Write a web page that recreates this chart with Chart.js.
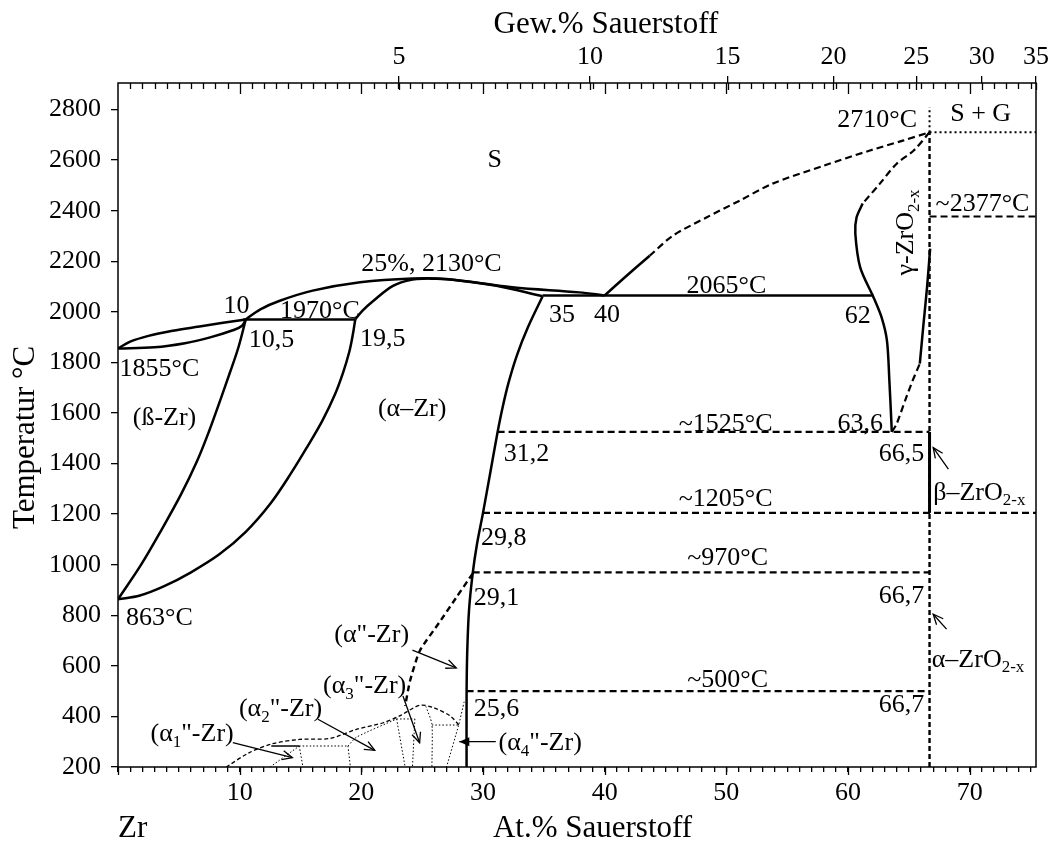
<!DOCTYPE html>
<html>
<head>
<meta charset="utf-8">
<script src="https://cdn.jsdelivr.net/npm/chart.js@4.4.1/dist/chart.umd.min.js"></script>
<style>
  body { margin: 0; background: #fff; }
</style>
</head>
<body>
<canvas id="phase" width="1057" height="843"></canvas>
<script>
// Zr-O phase diagram: x = At.% Sauerstoff, y = Temperatur in °C

const yTickValues = [200, 400, 600, 800, 1000, 1200, 1400, 1600, 1800, 2000, 2200, 2400, 2600, 2800]
const atTickLabels = [10, 20, 30, 40, 50, 60, 70]
const gewTickLabels = ['5', '10', '15', '20', '25', '30', '35']
const gewTickAt = [23.1, 38.8, 50.1, 58.8, 65.6, 71.0, 75.45]   // where each Gew.% tick sits in At.%

// phase boundaries, [At.% O, °C]
const liqBeta = [[0, 1855], [1, 1882], [2.5, 1905], [4.5, 1925], [6.7, 1942], [8.5, 1956], [10.5, 1970]]
const solBeta = [[0, 1855], [3, 1860], [5.5, 1876], [7.5, 1898], [9.5, 1928], [10.2, 1945], [10.5, 1970]]
const peritectic = [[10.3, 1970], [19.5, 1970]]
const liqAlpha = [[10.5, 1970], [11.7, 2010], [13.3, 2044], [16, 2084], [19.9, 2117], [24.2, 2132], [27, 2130], [32.4, 2097], [37.9, 2077], [40, 2065]]
const solAlphaL = [[19.5, 1970], [20.1, 2005], [21, 2044], [22.6, 2103], [24.2, 2128], [25.5, 2132]]
const solAlphaR = [[25.5, 2132], [27.5, 2127], [31.1, 2103], [34.9, 2062]]
const eutectic = [[34.9, 2065], [62.1, 2065]]
const alphaRight = [[34.9, 2062], [33.7, 1940], [32.8, 1830], [32.1, 1720], [31.6, 1620], [31.2, 1525], [30.6, 1365], [30, 1205], [29.5, 1080], [29.15, 965], [28.85, 820], [28.7, 650], [28.65, 480], [28.65, 200]]
const alphaLeft = [[19.5, 1970], [19.3, 1910], [19, 1840], [18.5, 1760], [17.8, 1670], [16.8, 1570], [15.6, 1470], [14.2, 1360], [12.5, 1240], [10.5, 1130], [8.3, 1040], [6, 970], [3.8, 915], [1.8, 878], [0, 863]]
const betaLine = [[10.5, 1970], [9.9, 1860], [9.2, 1760], [8.4, 1650], [7.5, 1530], [6.5, 1410], [5.2, 1280], [3.6, 1140], [1.9, 1000], [0, 863]]
const liqGasSolid = [[40, 2065], [41.5, 2130], [43.7, 2222]]
const liqGasDashed = [[43.7, 2222], [45.6, 2301], [48.4, 2374], [51.1, 2440], [53.8, 2507], [58, 2578], [61.8, 2638], [64.5, 2677], [66.7, 2710]]
const gammaLeftDashed = [[66.7, 2710], [65.4, 2638], [64, 2586], [62.6, 2506], [61.2, 2428]]
const gammaLeftSolid = [[61.2, 2428], [60.7, 2373], [60.6, 2309], [61, 2176], [62.1, 2057], [62.76, 1978], [63.2, 1886], [63.4, 1727], [63.6, 1525]]
const gammaRightDashed = [[63.6, 1525], [64, 1557], [64.7, 1650], [65.3, 1727], [65.9, 1795]]
const gammaRightSolid = [[65.9, 1795], [66.2, 1950], [66.5, 2100], [66.75, 2250]]
const zro2Dotted = [[66.7, 2710], [66.7, 2810]]
const zro2Dashed = [[66.7, 200], [66.7, 2710]]
const betaZrO2 = [[66.7, 1205], [66.7, 1525]]
const iso2710 = [[66.7, 2710], [75.45, 2710]]
const iso2377 = [[66.7, 2377], [75.45, 2377]]
const iso1525 = [[31.2, 1525], [66.7, 1525]]
const iso1205 = [[30, 1205], [75.45, 1205]]
const iso970 = [[29.15, 970], [66.7, 970]]
const iso500 = [[28.65, 500], [66.7, 500]]
const alphaDP = [[29.15, 965], [27.8, 870], [26.4, 771], [24.8, 659], [24, 540], [23.6, 441]]
const lowDashed = [[8.9, 200], [10.8, 257], [12.7, 292], [14.9, 309], [17.4, 313], [19.6, 349], [21.8, 375], [23.15, 402], [24.8, 444], [25.9, 435], [27.3, 402], [28.1, 362]]
const lowSolid = [[12.6, 283], [14.9, 283]]
const lowDotted = [
  [[12.5, 200], [14.9, 283]],
  [[14.9, 283], [18.9, 283]],
  [[14.9, 283], [15.2, 200]],
  [[18.9, 283], [19.1, 200]],
  [[18.9, 283], [19.6, 318], [22.9, 390]],
  [[22.9, 390], [24.4, 390]],
  [[22.9, 390], [23.6, 200]],
  [[24.4, 390], [24.2, 200]],
  [[25.3, 440], [25.8, 370], [25.8, 200]],
  [[25.8, 366], [28.0, 366]],
  [[28.45, 458], [28.0, 366], [27.0, 200]]
]

// text in the diagram: [text, At.%, °C, align]  (_{..} = subscript)
const labels = [
  ['1855°C', 3.41, 1783], ['(ß-Zr)', 3.82, 1589], ['863°C', 3.41, 797],
  ['10', 9.74, 2032], ['10,5', 12.62, 1894], ['1970°C', 16.6, 2012], ['19,5', 21.75, 1898],
  ['25%, 2130°C', 25.76, 2196], ['35', 36.5, 1993], ['40', 40.2, 1993], ['2065°C', 50.0, 2111],
  ['62', 60.8, 1989], ['S', 30.96, 2606], ['2710°C', 62.4, 2764], ['S + G', 70.9, 2789],
  ['~2377°C', 71.05, 2433], ['~1525°C', 49.94, 1562], ['63,6', 61.0, 1562], ['31,2', 33.57, 1444],
  ['66,5', 64.4, 1444], ['β–ZrO_{2-x}', 67.0, 1292, 'left'], ['~1205°C', 49.94, 1266],
  ['29,8', 31.7, 1114], ['~970°C', 50.1, 1035], ['29,1', 31.1, 877], ['66,7', 64.4, 883],
  ['α–ZrO_{2-x}', 66.88, 632, 'left'], ['~500°C', 50.1, 553], ['25,6', 31.1, 437], ['66,7', 64.4, 454],
  ['(α–Zr)', 24.18, 1622], ['(α"-Zr)', 20.85, 730], ['(α_{3}"-Zr)', 20.27, 528],
  ['(α_{2}"-Zr)', 13.36, 435], ['(α_{1}"-Zr)', 6.09, 336], ['(α_{4}"-Zr)', 34.7, 303]
]
const gammaLabel = ['γ-ZrO_{2-x}', 64.6, 2314]

// arrows: [from At.%, from °C, to At.%, to °C, filled head]
const arrows = [
  [24.2, 662, 27.8, 592, false],
  [9.44, 296, 14.33, 237, false],
  [16.43, 389, 21.1, 266, false],
  [23.42, 481, 24.79, 296, false],
  [31.05, 300, 28.05, 300, true],
  [68.25, 1378, 67.0, 1463, false],
  [68.1, 745, 67.0, 804, false]
]

const SERIF = '"Liberation Serif", "Times New Roman", serif'
const solid = { borderWidth: 2.5, borderDash: [] }
const dashed = { borderWidth: 2.2, borderDash: [7, 4] }
const dashedV = { borderWidth: 2.4, borderDash: [5, 3] }
const dotted = { borderWidth: 2, borderDash: [2, 3] }
const thinDashed = { borderWidth: 1.3, borderDash: [4, 2.5] }
const thinDotted = { borderWidth: 1, borderDash: [1.5, 2] }

function curve(pts, style, tension) {
  return Object.assign({
    data: pts.map(p => ({ x: p[0], y: p[1] })),
    showLine: true,
    pointRadius: 0,
    borderColor: '#000',
    fill: false,
    tension: tension || 0
  }, style)
}

const datasets = [
  curve(liqBeta, solid, 0.35),
  curve(solBeta, solid, 0.35),
  curve(peritectic, solid),
  curve(liqAlpha, solid, 0.35),
  curve(solAlphaL, solid, 0.35),
  curve(solAlphaR, solid, 0.35),
  curve(eutectic, solid),
  curve(alphaRight, solid, 0.35),
  curve(alphaLeft, solid, 0.35),
  curve(betaLine, solid, 0.35),
  curve(liqGasSolid, solid, 0.3),
  curve(liqGasDashed, dashed, 0.3),
  curve(gammaLeftDashed, dashed, 0.3),
  curve(gammaLeftSolid, solid, 0.3),
  curve(gammaRightDashed, dashed, 0.2),
  curve(gammaRightSolid, solid, 0.2),
  curve(zro2Dotted, dotted),
  curve(zro2Dashed, dashedV),
  curve(betaZrO2, { borderWidth: 3, borderDash: [] }),
  curve(iso2710, dotted),
  curve(iso2377, dashed),
  curve(iso1525, dashed),
  curve(iso1205, dashed),
  curve(iso970, dashed),
  curve(iso500, dashed),
  curve(alphaDP, { borderWidth: 2.4, borderDash: [6, 4] }, 0.2),
  curve(lowDashed, thinDashed, 0.3),
  curve(lowSolid, { borderWidth: 1.5, borderDash: [] })
].concat(lowDotted.map(seg => curve(seg, thinDotted, 0.2)))

function drawRich(ctx, str, x, y, align, size) {
  const parts = str.split(/_\{([^}]*)\}/)
  const subSize = Math.round(size * 0.65)
  const widths = parts.map((p, i) => {
    ctx.font = (i % 2 ? subSize : size) + 'px ' + SERIF
    return ctx.measureText(p).width
  })
  const total = widths.reduce((a, b) => a + b, 0)
  let cx = align === 'left' ? x : x - total / 2
  ctx.textAlign = 'left'
  ctx.textBaseline = 'alphabetic'
  parts.forEach((p, i) => {
    ctx.font = (i % 2 ? subSize : size) + 'px ' + SERIF
    ctx.fillText(p, cx, i % 2 ? y + size * 0.22 : y)
    cx += widths[i]
  })
}

const decorations = {
  id: 'decorations',
  afterDraw(chart) {
    const { ctx, chartArea: a, scales: { x, y } } = chart
    ctx.save()
    ctx.strokeStyle = '#000'
    ctx.fillStyle = '#000'

    // frame
    ctx.lineWidth = 1.5
    ctx.strokeRect(a.left, a.top, a.right - a.left, a.bottom - a.top)

    // inner ticks on top (At.% every 1, longer every 10) and Gew.% ticks inward
    ctx.lineWidth = 1.3
    ctx.beginPath()
    for (let v = 1; v <= 75; v++) {
      const px = Math.round(x.getPixelForValue(v)) + 0.5
      ctx.moveTo(px, a.top)
      ctx.lineTo(px, a.top + (v % 10 === 0 ? 11 : 6))
    }
    gewTickAt.forEach(v => {
      const px = Math.round(x.getPixelForValue(v)) + 0.5
      ctx.moveTo(px, a.top)
      ctx.lineTo(px, a.top + 7)
    })
    // longer major ticks at the bottom
    ;[0].concat(atTickLabels).forEach(v => {
      const px = Math.round(x.getPixelForValue(v)) + 0.5
      ctx.moveTo(px, a.bottom)
      ctx.lineTo(px, a.bottom + 8)
    })
    ctx.stroke()

    // labels
    const size = 26
    labels.forEach(l => {
      drawRich(ctx, l[0], x.getPixelForValue(l[1]), y.getPixelForValue(l[2]) + size * 0.34, l[3] || 'center', size)
    })
    ctx.save()
    ctx.translate(x.getPixelForValue(gammaLabel[1]), y.getPixelForValue(gammaLabel[2]))
    ctx.rotate(-Math.PI / 2)
    drawRich(ctx, gammaLabel[0], 0, size * 0.34, 'center', size)
    ctx.restore()

    // arrows
    ctx.lineWidth = 1.3
    arrows.forEach(ar => {
      const x0 = x.getPixelForValue(ar[0]), y0 = y.getPixelForValue(ar[1])
      const x1 = x.getPixelForValue(ar[2]), y1 = y.getPixelForValue(ar[3])
      const ang = Math.atan2(y1 - y0, x1 - x0)
      const len = 11, spread = 0.42
      ctx.beginPath()
      ctx.moveTo(x0, y0)
      ctx.lineTo(x1, y1)
      ctx.stroke()
      ctx.beginPath()
      ctx.moveTo(x1 - len * Math.cos(ang - spread), y1 - len * Math.sin(ang - spread))
      ctx.lineTo(x1, y1)
      ctx.lineTo(x1 - len * Math.cos(ang + spread), y1 - len * Math.sin(ang + spread))
      if (ar[4]) { ctx.closePath(); ctx.fill() } else ctx.stroke()
    })

    // axis titles
    ctx.font = '31px ' + SERIF
    ctx.textBaseline = 'alphabetic'
    ctx.textAlign = 'center'
    ctx.fillText('Gew.% Sauerstoff', x.getPixelForValue(40.1), 33)
    ctx.fillText('At.% Sauerstoff', x.getPixelForValue(39.0), 837)
    ctx.textAlign = 'left'
    ctx.fillText('Zr', a.left, 837)
    ctx.translate(33.5, 437.5)
    ctx.rotate(-Math.PI / 2)
    ctx.textAlign = 'center'
    ctx.fillText('Temperatur °C', 0, 0)
    ctx.restore()
  }
}

const tickFont = { family: SERIF, size: 26 }

new Chart(document.getElementById('phase').getContext('2d'), {
  type: 'scatter',
  data: { datasets: datasets },
  options: {
    responsive: false,
    animation: false,
    layout: { padding: { left: 0, right: 21, top: 0, bottom: 0 } },
    plugins: { legend: { display: false }, tooltip: { enabled: false } },
    scales: {
      x: {
        type: 'linear', position: 'bottom', min: 0, max: 75.45,
        afterFit: s => { s.height = 76 },
        afterBuildTicks: s => { s.ticks = Array.from({ length: 76 }, (_, i) => ({ value: i })) },
        ticks: {
          autoSkip: false, maxRotation: 0, padding: 6, color: '#000', font: tickFont,
          callback: v => atTickLabels.includes(v) ? String(v) : ''
        },
        grid: { drawOnChartArea: false, tickLength: 5, color: '#000', lineWidth: 1.3 },
        border: { display: false }
      },
      x2: {
        type: 'linear', position: 'top', min: 0, max: 75.45,
        afterFit: s => { s.height = 83 },
        afterBuildTicks: s => { s.ticks = gewTickAt.map(v => ({ value: v })) },
        ticks: {
          autoSkip: false, maxRotation: 0, padding: 3, color: '#000', font: tickFont,
          callback: (v, i) => gewTickLabels[i]
        },
        grid: { drawOnChartArea: false, tickLength: 7, color: '#000', lineWidth: 1.3 },
        border: { display: false }
      },
      y: {
        type: 'linear', min: 200, max: 2905,
        afterFit: s => { s.width = 118 },
        afterBuildTicks: s => { s.ticks = yTickValues.map(v => ({ value: v })) },
        ticks: { padding: 10, color: '#000', font: tickFont, callback: v => String(v) },
        grid: { drawOnChartArea: false, tickLength: 7, color: '#000', lineWidth: 1.3 },
        border: { display: false }
      }
    }
  },
  plugins: [decorations]
})
</script>
</body>
</html>
